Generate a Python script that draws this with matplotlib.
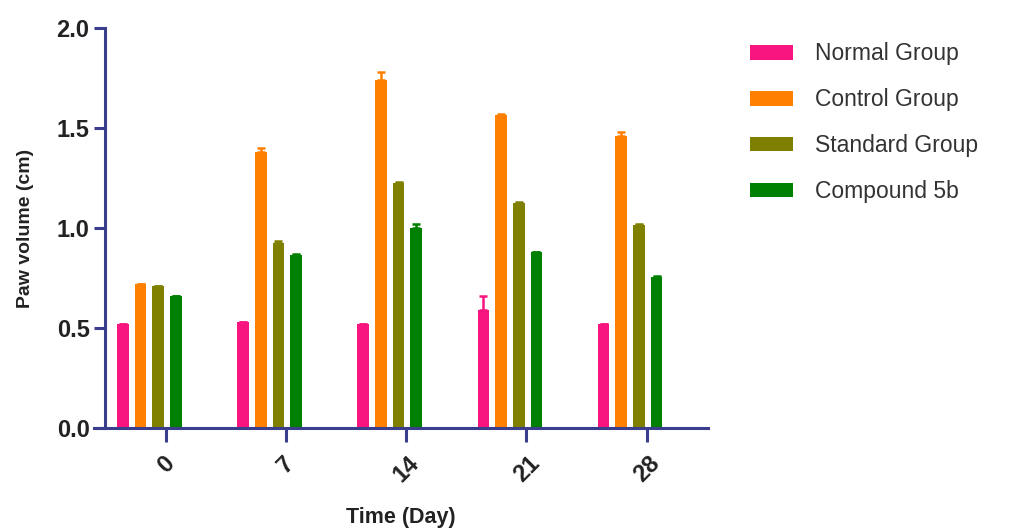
import numpy as np
import matplotlib.pyplot as plt
from matplotlib.patches import Patch

plt.rcParams['font.family'] = ['Liberation Sans', 'DejaVu Sans']

days = ["0", "7", "14", "21", "28"]
groups = ["Normal Group", "Control Group", "Standard Group", "Compound 5b"]
colors = ["#F8157F", "#FF8000", "#808000", "#008000"]

normal = [0.52, 0.53, 0.52, 0.59, 0.52]
control = [0.72, 1.38, 1.74, 1.565, 1.46]
standard = [0.71, 0.925, 1.225, 1.125, 1.015]
compound = [0.66, 0.865, 1.00, 0.88, 0.755]

normal_err = [0.0, 0.0, 0.0, 0.07, 0.0]
control_err = [0.0, 0.02, 0.04, 0.005, 0.02]
standard_err = [0.0, 0.008, 0.006, 0.006, 0.006]
compound_err = [0.0, 0.006, 0.02, 0.0, 0.006]

series = [normal, control, standard, compound]
errors = [normal_err, control_err, standard_err, compound_err]

axis_color = "#3A3E8C"

fig = plt.figure(figsize=(10.2, 5.31), dpi=100)
ax = fig.add_axes([0.092, 0.194, 0.602, 0.753])

x = np.arange(len(days))
width = 0.096
offsets = [-0.358, -0.211, -0.064, 0.083]

for vals, errs, col, off in zip(series, errors, colors, offsets):
    vals = np.array(vals)
    errs = np.array(errs)
    ax.bar(x + off, vals, width=width, color=col, zorder=2)
    ax.errorbar(x + off, vals, yerr=[np.zeros_like(errs), errs], fmt="none",
                ecolor=col, elinewidth=1.8, capsize=3, capthick=1.8, zorder=1)

ax.set_xlim(-0.6, 4.51)
ax.set_ylim(0, 2.0)
ax.spines["left"].set_position(("data", -0.508))
for s in ["top", "right"]:
    ax.spines[s].set_visible(False)
for s in ["left", "bottom"]:
    ax.spines[s].set_color(axis_color)
    ax.spines[s].set_linewidth(2.2)

ax.set_yticks([0.0, 0.5, 1.0, 1.5, 2.0])
ax.set_yticklabels(["0.0", "0.5", "1.0", "1.5", "2.0"], fontsize=17,
                   fontweight="bold", color="#222222")
ax.set_xticks(x)
ax.set_xticklabels(days, fontsize=17, fontweight="bold", color="#222222",
                   rotation=45, ha="center", va="top")
ax.tick_params(axis="y", length=8, width=2.2, color=axis_color, pad=3)
ax.tick_params(axis="x", length=10, width=2.2, color=axis_color, pad=7)

ax.set_ylabel("Paw volume (cm)", fontsize=14, fontweight="bold",
              color="#222222", labelpad=16)
ax.set_xlabel("Time (Day)", fontsize=15.5, fontweight="bold",
              color="#222222", labelpad=15)

handles = [Patch(facecolor=c, edgecolor="none") for c in colors]
fig.legend(handles, groups, loc="upper left", bbox_to_anchor=(0.715, 0.959),
           frameon=False, fontsize=16.5, labelcolor="#333333",
           handlelength=1.87, handleheight=0.6, handletextpad=0.95,
           labelspacing=1.0)

fig.savefig("out.png", dpi=100)
